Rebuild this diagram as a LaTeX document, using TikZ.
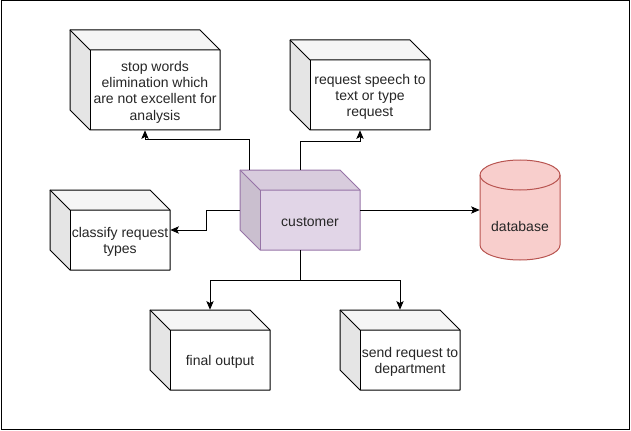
\documentclass[tikz,border=0pt]{standalone}
\usepackage{fontspec}
\setmainfont{Liberation Sans}
\usetikzlibrary{arrows.meta,fit,calc}
\definecolor{purplefill}{HTML}{E1D5E7}
\definecolor{purpleline}{HTML}{9673A6}
\definecolor{redfill}{HTML}{F8CECC}
\definecolor{redline}{HTML}{B85450}
\tikzset{
  lbl/.style={font=\fontsize{10.5pt}{12.2pt}\selectfont, align=center, inner sep=0pt, text=black!85},
  conn/.style={line width=0.75pt, -{Stealth[length=6.5pt,width=5.5pt,inset=1.5pt]}},
  shp/.style={line width=0.75pt}
}
\newcommand\cubebox[8]{%
  \node[fit={(#2,#3)(#4,#5)}, inner sep=0pt, draw=none] (#1) {};
  \fill[#6] (#2,#3) -- (#4-20,#3) -- (#4,#3+20) -- (#4,#5) -- (#2+20,#5) -- (#2,#5-20) -- cycle;
  \fill[black, opacity=0.04] (#2,#3) -- (#4-20,#3) -- (#4,#3+20) -- (#2+20,#3+20) -- cycle;
  \fill[black, opacity=0.1] (#2,#3) -- (#2+20,#3+20) -- (#2+20,#5) -- (#2,#5-20) -- cycle;
  \draw[shp, draw=#7, line join=round] (#2,#3) -- (#4-20,#3) -- (#4,#3+20) -- (#4,#5) -- (#2+20,#5) -- (#2,#5-20) -- cycle;
  \draw[shp, draw=#7] (#2,#3) -- (#2+20,#3+20) -- (#4,#3+20);
  \draw[shp, draw=#7] (#2+20,#3+20) -- (#2+20,#5);
  \node[lbl] (#1-t) at ({(#2+20+#4)/2},{(#3+20+#5)/2+2}) {#8};
}
\begin{document}
\begin{tikzpicture}[x=0.75pt,y=-0.75pt]
\useasboundingbox (0,0) rectangle (631,431);
\draw[line width=0.75pt] (1,1) rectangle (629.5,429.5);

\cubebox{stop}{70}{30}{220}{130}{white}{black}{stop words\\elimination which\\are not excellent for\\analysis}
\cubebox{req}{290}{40}{430}{130}{white}{black}{request speech to\\text or type\\request}
\cubebox{cust}{240}{170}{360}{250}{purplefill}{purpleline}{customer}
\cubebox{cls}{50}{190}{170}{270}{white}{black}{classify request\\types}
\cubebox{fin}{150}{310}{270}{390}{white}{black}{final output}
\cubebox{send}{340}{310}{460}{390}{white}{black}{send request to\\department}

% database cylinder
\node[fit={(480,160)(560,260)}, inner sep=0pt, draw=none] (db) {};
\filldraw[shp, fill=redfill, draw=redline]
  (480,175) -- (480,245)
  .. controls (480,253.28) and (497.9,260) .. (520,260)
  .. controls (542.1,260) and (560,253.28) .. (560,245)
  -- (560,175)
  .. controls (560,166.72) and (542.1,160) .. (520,160)
  .. controls (497.9,160) and (480,166.72) .. (480,175) -- cycle;
\draw[shp, draw=redline]
  (480,175) .. controls (480,183.28) and (497.9,190) .. (520,190)
  .. controls (542.1,190) and (560,183.28) .. (560,175);
\node[lbl] (db-t) at (520,226) {database};

% connectors
\draw[conn] ($(cust.north west)+(10,0)$) -- ++(0,-30) -| (stop.south);
\draw[conn] (cust.north) -- ++(0,-28) -| (req.south);
\draw[conn] (cust.west) -- ++(-33,0) |- (cls.east);
\draw[conn] (cust.east) -- (db.west);
\draw[conn] (cust.south) -- ++(0,30) -| (fin.north);
\draw[conn] (cust.south) -- ++(0,30) -| (send.north);
\end{tikzpicture}
\end{document}
